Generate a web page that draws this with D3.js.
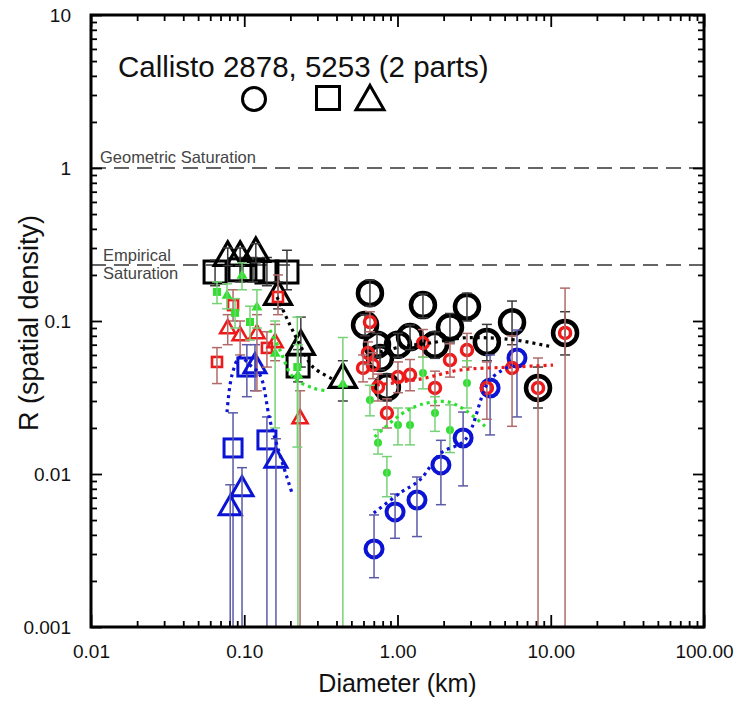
<!DOCTYPE html>
<html><head><meta charset="utf-8">
<script src="https://cdn.jsdelivr.net/npm/d3@7"></script>
<style>body{margin:0;background:#fff;} svg{display:block;font-family:"Liberation Sans",Arial,sans-serif;}</style>
</head><body>
<svg id="c" width="740" height="702"></svg>
<script>
// ---------- tick labels ----------
const xTicks = [0.01, 0.1, 1, 10, 100];
const xTickLabels = ["0.01", "0.10", "1.00", "10.00", "100.00"];
const yTicks = [0.001, 0.01, 0.1, 1, 10];
const yTickLabels = ["0.001", "0.01", "0.1", "1", "10"];
const geometricSat = 1;
const empiricalSat = 0.232;

// ---------- black circles ----------
const bkCircD  = [0.661, 0.614, 0.735, 0.769, 0.853, 1.007, 1.207, 1.466, 1.756, 2.20, 2.84, 3.83, 5.59, 8.26, 12.4];
const bkCircR  = [0.152, 0.094, 0.070, 0.0573, 0.037, 0.070, 0.0785, 0.127, 0.070, 0.091, 0.124, 0.073, 0.098, 0.0365, 0.0836];
const bkCircLo = [0.125, 0.080, 0.058, 0.048, 0.030, 0.058, 0.065, 0.105, 0.057, 0.073, 0.100, 0.055, 0.070, 0.027, 0.060];
const bkCircHi = [0.185, 0.110, 0.083, 0.068, 0.045, 0.083, 0.094, 0.150, 0.085, 0.112, 0.152, 0.095, 0.135, 0.050, 0.115];
// ---------- black squares ----------
const bkSqD  = [0.0645, 0.0938, 0.114, 0.1406, 0.19, 0.2245];
const bkSqR  = [0.209, 0.216, 0.216, 0.209, 0.209, 0.0508];
const bkSqLo = [0.17, 0.18, 0.18, 0.17, 0.16, 0.04];
const bkSqHi = [0.25, 0.26, 0.26, 0.26, 0.29, 0.065];
// ---------- black triangles ----------
const bkTriD  = [0.078, 0.094, 0.119, 0.166, 0.234, 0.44];
const bkTriR  = [0.266, 0.266, 0.282, 0.148, 0.0697, 0.0424];
const bkTriLo = [0.23, 0.23, 0.24, 0.12, 0.05, 0.03];
const bkTriHi = [0.30, 0.30, 0.32, 0.18, 0.106, 0.055];

// ---------- red circles ----------
const rdCircD  = [0.661, 0.642, 0.596, 0.692, 0.746, 0.853, 1.007, 1.207, 1.466, 1.756, 2.20, 2.84, 3.83, 5.59, 8.26, 12.4];
const rdCircR  = [0.0985, 0.0618, 0.0493, 0.0515, 0.037, 0.025, 0.043, 0.0445, 0.0718, 0.0365, 0.0556, 0.0646, 0.0365, 0.0493, 0.0365, 0.0836];
const rdCircLo = [0.085, 0.052, 0.040, 0.042, 0.030, 0.020, 0.034, 0.035, 0.058, 0.028, 0.043, 0.050, 0.0228, 0.0205, 0.0005, 0.0005];
const rdCircHi = [0.115, 0.073, 0.060, 0.062, 0.045, 0.031, 0.054, 0.056, 0.088, 0.047, 0.071, 0.083, 0.054, 0.080, 0.0573, 0.164];
// ---------- red squares ----------
const rdSqD  = [0.0664, 0.0845, 0.1406, 0.166];
const rdSqR  = [0.054, 0.127, 0.0667, 0.1435];
const rdSqLo = [0.039, 0.10, 0.05, 0.11];
const rdSqHi = [0.067, 0.16, 0.085, 0.20];
// ---------- red triangles ----------
const rdTriD  = [0.078, 0.094, 0.121, 0.159, 0.2313];
const rdTriR  = [0.09, 0.081, 0.0835, 0.073, 0.0232];
const rdTriLo = [0.07, 0.06, 0.035, 0.055, 0.0005];
const rdTriHi = [0.11, 0.10, 0.11, 0.095, 0.035];

// ---------- green circles ----------
const gnCircD  = [0.661, 0.746, 0.853, 1.007, 1.207, 1.466, 1.756, 2.20, 2.84];
const gnCircR  = [0.0305, 0.016, 0.0102, 0.0209, 0.0209, 0.0457, 0.025, 0.0194, 0.0393];
const gnCircLo = [0.024, 0.0135, 0.0071, 0.0155, 0.0155, 0.036, 0.019, 0.0138, 0.027];
const gnCircHi = [0.038, 0.0195, 0.013, 0.027, 0.027, 0.058, 0.032, 0.0283, 0.055];
// ---------- green squares ----------
const gnSqD  = [0.0664, 0.0871, 0.109, 0.222];
const gnSqR  = [0.155, 0.113, 0.0985, 0.05];
const gnSqLo = [0.13, 0.09, 0.075, 0.015];
const gnSqHi = [0.18, 0.14, 0.125, 0.106];
// ---------- green triangles ----------
const gnTriD  = [0.0772, 0.0967, 0.121, 0.159, 0.224, 0.44];
const gnTriR  = [0.148, 0.20, 0.124, 0.0618, 0.0444, 0.0389];
const gnTriLo = [0.12, 0.16, 0.09, 0.02, 0.0005, 0.0005];
const gnTriHi = [0.175, 0.24, 0.16, 0.10, 0.07, 0.078];

// ---------- blue circles ----------
const blCircD  = [0.703, 0.964, 1.34, 1.92, 2.68, 4.02, 6.02];
const blCircR  = [0.00324, 0.00565, 0.00676, 0.01146, 0.0172, 0.0365, 0.0573];
const blCircLo = [0.0021, 0.0038, 0.0039, 0.0063, 0.00836, 0.018, 0.0236];
const blCircHi = [0.0054, 0.0074, 0.00956, 0.0166, 0.0254, 0.06, 0.0873];
// ---------- blue squares ----------
const blSqD  = [0.0845, 0.104, 0.1406];
const blSqR  = [0.0148, 0.05, 0.0167];
const blSqLo = [0.0005, 0.032, 0.0005];
const blSqHi = [0.0251, 0.07, 0.0236];
// ---------- blue triangles ----------
const blTriD  = [0.081, 0.0967, 0.1175, 0.161];
const blTriR  = [0.00608, 0.0081, 0.0515, 0.0124];
const blTriLo = [0.0005, 0.0005, 0.035, 0.0005];
const blTriHi = [0.0085, 0.011, 0.07, 0.017];

// ---------- dotted fits ----------
const bkFitSmallD = [0.1636, 0.199, 0.2313, 0.281, 0.3795];
const bkFitSmallR = [0.1435, 0.094, 0.0697, 0.05, 0.0417];
const bkFitLargeD = [0.769, 1.038, 1.63, 2.676, 4.01, 5.84, 10.34];
const bkFitLargeR = [0.0627, 0.0676, 0.0718, 0.0775, 0.0775, 0.0752, 0.0676];
const rdFitD = [0.735, 1.402, 2.558, 5.67, 10.34];
const rdFitR = [0.0382, 0.0417, 0.0478, 0.05, 0.0515];
const gnFitSmallD = [0.147, 0.171, 0.208, 0.281, 0.347];
const gnFitSmallR = [0.0873, 0.0646, 0.043, 0.0365, 0.0349];
const gnFitLargeD = [0.71, 1.04, 1.40, 2.1, 2.76, 3.83];
const gnFitLargeR = [0.0175, 0.0243, 0.0283, 0.0297, 0.0262, 0.02];
const blFitSmallD = [0.0772, 0.0832, 0.0938, 0.109, 0.1267, 0.147, 0.171, 0.205];
const blFitSmallR = [0.0254, 0.0444, 0.0582, 0.0516, 0.0444, 0.0225, 0.0133, 0.0075];
const blFitLargeD = [0.70, 1.038, 1.40, 1.92, 2.76, 4.0, 5.59];
const blFitLargeR = [0.00556, 0.0075, 0.00915, 0.0137, 0.0167, 0.0411, 0.0516];

// ---------- setup ----------
const svg = d3.select("#c");
const L = 91, R = 704, T = 15, B = 627;
const x = d3.scaleLog().domain([0.01, 100]).range([L, R]);
const y = d3.scaleLog().domain([0.001, 10]).range([B, T]);

svg.append("defs").append("clipPath").attr("id", "clip")
  .append("rect").attr("x", L).attr("y", T).attr("width", R - L).attr("height", B - T);

const COL = {black: "#000", red: "#ee1a1a", green: "#2fe02f", blue: "#0b14d4"};
const BAR = {black: "#3a3a3a", red: "#b06a6a", green: "#77d277", blue: "#5a5aa8"};

// saturation lines
const sat = svg.append("g");
[geometricSat, empiricalSat].forEach(v => {
  sat.append("line").attr("x1", L).attr("x2", R).attr("y1", y(v)).attr("y2", y(v))
    .attr("stroke", "#333").attr("stroke-width", 1.5).attr("stroke-dasharray", "15,8");
});
sat.append("text").attr("x", 100).attr("y", y(geometricSat) - 5).attr("font-size", 16.5).attr("fill", "#444").text("Geometric Saturation");
sat.append("text").attr("x", 103).attr("y", y(empiricalSat) - 4).attr("font-size", 16.5).attr("fill", "#444").text("Empirical");
sat.append("text").attr("x", 103).attr("y", y(empiricalSat) + 14).attr("font-size", 16.5).attr("fill", "#444").text("Saturation");

const plot = svg.append("g").attr("clip-path", "url(#clip)");

function symbol(g, type, cx, cy, size, color, filled, sw) {
  if (type === "circle") {
    g.append("circle").attr("cx", cx).attr("cy", cy).attr("r", size)
      .attr("fill", filled ? color : "none").attr("stroke", color).attr("stroke-width", sw);
  } else if (type === "square") {
    g.append("rect").attr("x", cx - size / 2).attr("y", cy - size / 2).attr("width", size).attr("height", size)
      .attr("fill", filled ? color : "none").attr("stroke", color).attr("stroke-width", sw);
  } else {
    const w = size, h = size * 0.87;
    g.append("path").attr("d", `M${cx},${cy - h * 0.6}L${cx + w / 2},${cy + h * 0.4}L${cx - w / 2},${cy + h * 0.4}Z`)
      .attr("fill", filled ? color : "none").attr("stroke", color).attr("stroke-width", sw).attr("stroke-linejoin", "miter");
  }
}

function series(D, Rv, lo, hi, type, colorKey, size, filled, sw, cap) {
  const g = plot.append("g");
  const col = COL[colorKey], bc = BAR[colorKey];
  D.forEach((d, i) => symbol(g, type, x(d), y(Rv[i]), size, col, filled, sw));
  D.forEach((d, i) => {
    const cx = x(d);
    g.append("line").attr("x1", cx).attr("x2", cx).attr("y1", y(lo[i])).attr("y2", y(hi[i]))
      .attr("stroke", bc).attr("stroke-width", 1.5);
    [lo[i], hi[i]].forEach(v => {
      if (v > 0.001) g.append("line").attr("x1", cx - cap).attr("x2", cx + cap).attr("y1", y(v)).attr("y2", y(v))
        .attr("stroke", bc).attr("stroke-width", 1.5);
    });
  });
}

function fit(D, Rv, colorKey) {
  const line = d3.line().x(d => x(d[0])).y(d => y(d[1])).curve(d3.curveCatmullRom);
  plot.append("path").attr("d", line(D.map((d, i) => [d, Rv[i]])))
    .attr("fill", "none").attr("stroke", COL[colorKey]).attr("stroke-width", 3.2)
    .attr("stroke-dasharray", "3,4");
}

// draw order
series(bkCircD, bkCircR, bkCircLo, bkCircHi, "circle", "black", 12, false, 4.5, 5);
series(bkSqD, bkSqR, bkSqLo, bkSqHi, "square", "black", 22, false, 3, 5);
series(bkTriD, bkTriR, bkTriLo, bkTriHi, "triangle", "black", 27, false, 3.2, 5);
series(blCircD, blCircR, blCircLo, blCircHi, "circle", "blue", 8.5, false, 4, 5);
series(blSqD, blSqR, blSqLo, blSqHi, "square", "blue", 18, false, 3, 5);
series(blTriD, blTriR, blTriLo, blTriHi, "triangle", "blue", 22, false, 3, 5);
series(rdCircD, rdCircR, rdCircLo, rdCircHi, "circle", "red", 5.5, false, 3.5, 5);
series(rdSqD, rdSqR, rdSqLo, rdSqHi, "square", "red", 10, false, 2.6, 5);
series(rdTriD, rdTriR, rdTriLo, rdTriHi, "triangle", "red", 15, false, 2.6, 5);
series(gnCircD, gnCircR, gnCircLo, gnCircHi, "circle", "green", 4, true, 0, 5);
series(gnSqD, gnSqR, gnSqLo, gnSqHi, "square", "green", 8, true, 0, 5);
series(gnTriD, gnTriR, gnTriLo, gnTriHi, "triangle", "green", 11, true, 0, 5);

fit(bkFitSmallD, bkFitSmallR, "black");
fit(bkFitLargeD, bkFitLargeR, "black");
fit(rdFitD, rdFitR, "red");
fit(gnFitSmallD, gnFitSmallR, "green");
fit(gnFitLargeD, gnFitLargeR, "green");
fit(blFitSmallD, blFitSmallR, "blue");
fit(blFitLargeD, blFitLargeR, "blue");

// ---------- axes ----------
const xMinor = x.ticks().filter(v => !xTicks.some(t => Math.abs(t - v) / t < 1e-6));
const yMinor = y.ticks().filter(v => !yTicks.some(t => Math.abs(t - v) / t < 1e-6));

function styleAxis(g) {
  g.select(".domain").remove();
  g.selectAll(".tick line").attr("stroke", "#000").attr("stroke-width", 1.8);
  g.selectAll("text").attr("font-size", 19).attr("fill", "#111").attr("font-family", "'Liberation Sans', Arial, sans-serif");
}

svg.append("g").attr("transform", `translate(0,${B})`)
  .call(d3.axisBottom(x).tickValues(xTicks).tickSizeInner(-12).tickSizeOuter(0).tickPadding(18)
    .tickFormat((d, i) => xTickLabels[i])).call(styleAxis);
svg.append("g").attr("transform", `translate(0,${B})`)
  .call(d3.axisBottom(x).tickValues(xMinor).tickSizeInner(-6).tickSizeOuter(0).tickFormat("")).call(styleAxis);
svg.append("g").attr("transform", `translate(0,${T})`)
  .call(d3.axisTop(x).tickValues(xTicks).tickSizeInner(-12).tickSizeOuter(0).tickFormat("")).call(styleAxis);
svg.append("g").attr("transform", `translate(0,${T})`)
  .call(d3.axisTop(x).tickValues(xMinor).tickSizeInner(-6).tickSizeOuter(0).tickFormat("")).call(styleAxis);
svg.append("g").attr("transform", `translate(${L},0)`)
  .call(d3.axisLeft(y).tickValues(yTicks).tickSizeInner(-11).tickSizeOuter(0).tickPadding(20)
    .tickFormat((d, i) => yTickLabels[i])).call(styleAxis);
svg.append("g").attr("transform", `translate(${L},0)`)
  .call(d3.axisLeft(y).tickValues(yMinor).tickSizeInner(-6).tickSizeOuter(0).tickFormat("")).call(styleAxis);
svg.append("g").attr("transform", `translate(${R},0)`)
  .call(d3.axisRight(y).tickValues(yTicks).tickSizeInner(-11).tickSizeOuter(0).tickFormat("")).call(styleAxis);
svg.append("g").attr("transform", `translate(${R},0)`)
  .call(d3.axisRight(y).tickValues(yMinor).tickSizeInner(-6).tickSizeOuter(0).tickFormat("")).call(styleAxis);

// frame
svg.append("rect").attr("x", L).attr("y", T).attr("width", R - L).attr("height", B - T)
  .attr("fill", "none").attr("stroke", "#000").attr("stroke-width", 3);

// axis titles
svg.append("text").attr("x", (L + R) / 2).attr("y", 692).attr("text-anchor", "middle")
  .attr("font-size", 25).attr("fill", "#111").text("Diameter (km)");
svg.append("text").attr("transform", `translate(38,323) rotate(-90)`).attr("text-anchor", "middle")
  .attr("font-size", 27).attr("fill", "#111").text("R (spatial density)");

// title and symbol key
svg.append("text").attr("x", 118).attr("y", 77).attr("font-size", 29.5).attr("fill", "#111")
  .text("Callisto 2878, 5253 (2 parts)");
const key = svg.append("g");
symbol(key, "circle", 254, 99, 11.5, "#000", false, 3);
symbol(key, "square", 328, 98, 23, "#000", false, 3);
symbol(key, "triangle", 370, 100, 28, "#000", false, 3);
</script></body></html>
